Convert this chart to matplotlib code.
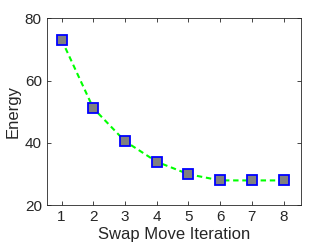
import numpy as np
import matplotlib.pyplot as plt

# --- Data ---
iterations = [1, 2, 3, 4, 5, 6, 7, 8]
energy = [73.1, 51.1, 40.5, 33.9, 29.9, 27.9, 27.9, 27.9]

plt.rcParams['font.family'] = ['Liberation Sans', 'DejaVu Sans']

fig = plt.figure(figsize=(3.32, 2.49), dpi=100)
ax = fig.add_axes([46.7 / 332, 1 - 205 / 249, (301 - 46.7) / 332, (205 - 18.3) / 249])

ax.plot(iterations, energy, '--', color='#00ff00', lw=1.5, dashes=(2.6, 1.8), zorder=2)
ax.plot(iterations, energy, 's', ms=6.5, mfc='#808080', mec='#0000ff', mew=1.3,
        ls='none', zorder=3)

ax.set_xlim(0.53, 8.55)
ax.set_ylim(20, 80)
ax.set_xticks(iterations)
ax.set_yticks([20, 40, 60, 80])

dark = '#262626'
for s in ax.spines.values():
    s.set_color(dark)
    s.set_linewidth(0.6)
ax.tick_params(direction='in', top=True, right=True, length=3, width=0.6,
               colors=dark, labelsize=11, labelcolor=dark)
ax.set_xlabel('Swap Move Iteration', fontsize=12, color=dark, labelpad=2)
ax.set_ylabel('Energy', fontsize=12, color=dark, labelpad=3)

fig.savefig('out.png', dpi=100)
